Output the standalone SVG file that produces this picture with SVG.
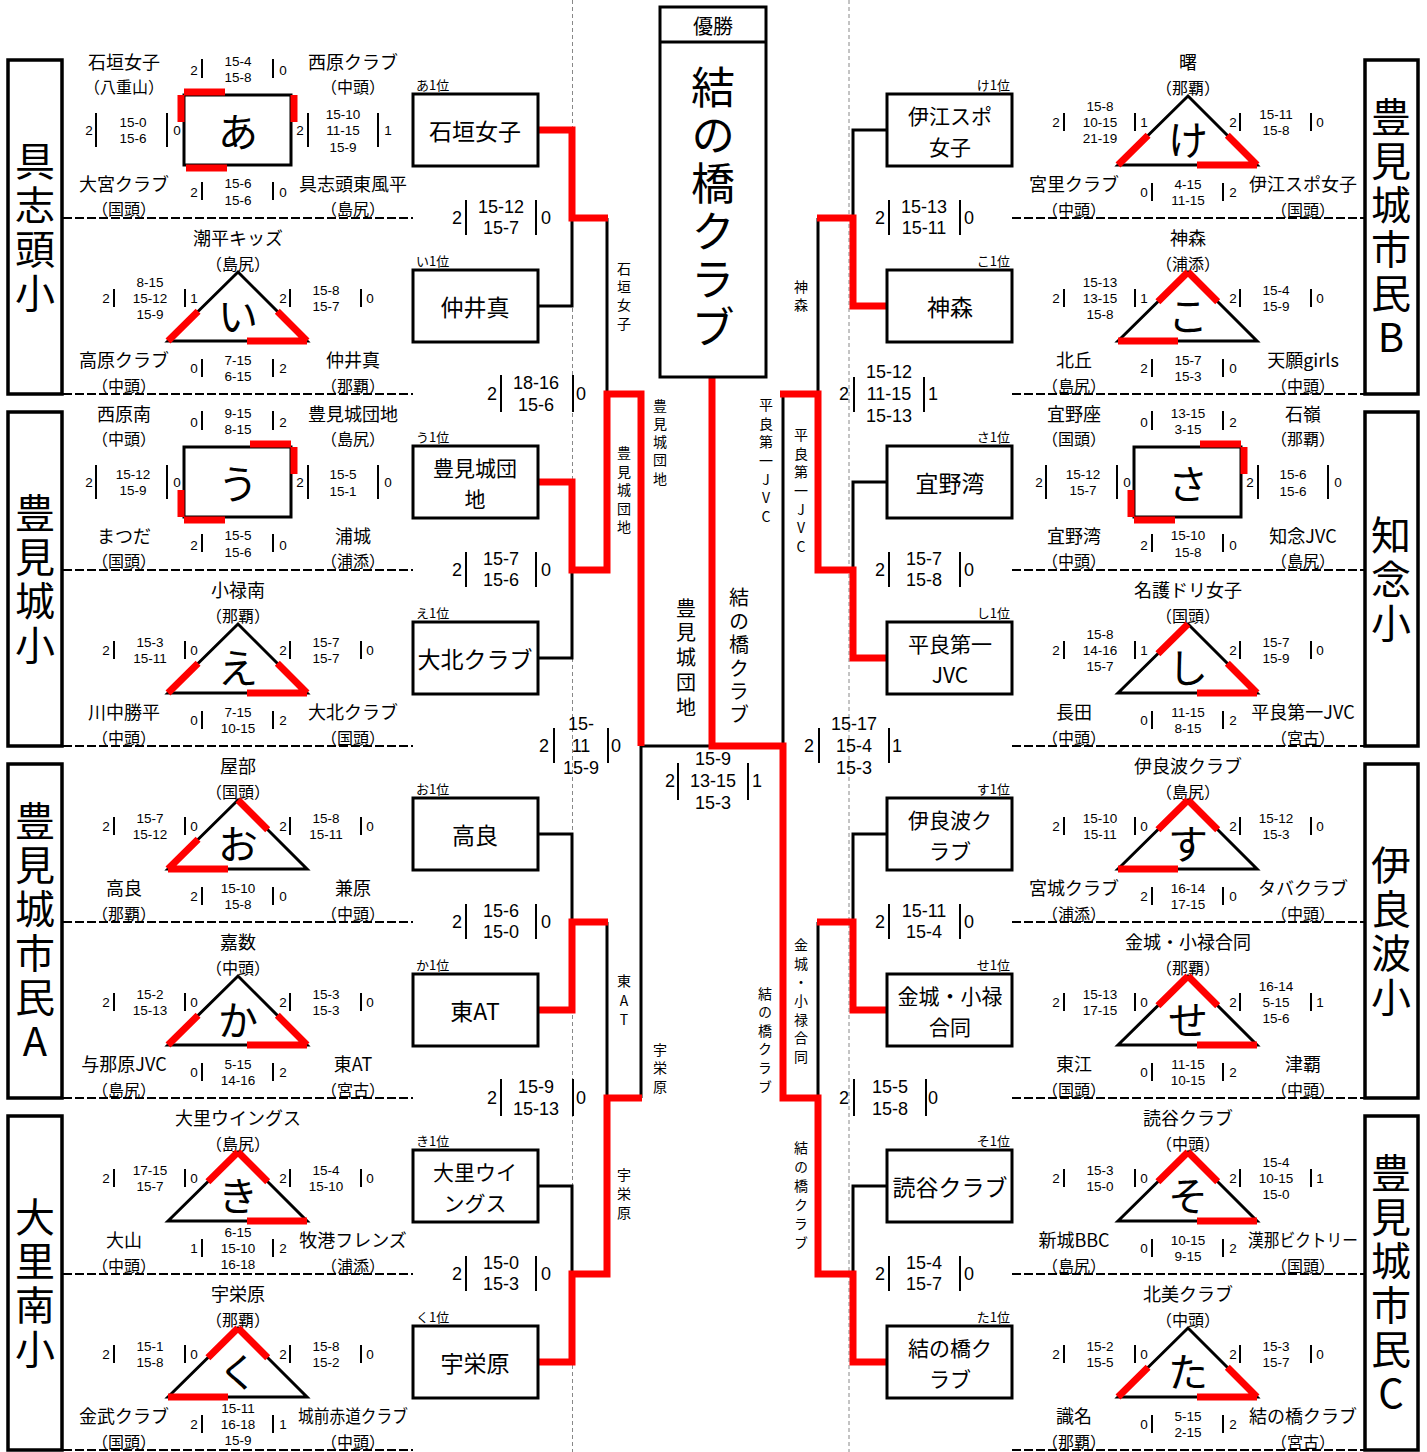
<svg xmlns="http://www.w3.org/2000/svg" width="1427" height="1452" viewBox="0 0 1427 1452">
<style>
text{font-family:"Noto Sans CJK JP","Noto Sans",sans-serif;fill:#000;text-anchor:middle;dominant-baseline:central}
.nm{font-size:18px}.rg{font-size:16px}.gc{font-size:40px}.bt{font-size:23px}.bt2{font-size:21px}
.sc{font-family:"Liberation Sans","Noto Sans CJK JP",sans-serif;font-size:13.5px}
.bs{font-family:"Liberation Sans","Noto Sans CJK JP",sans-serif;font-size:18px}
.lb{font-size:13px;text-anchor:start}.lbr{font-size:13px;text-anchor:end}
.vt{writing-mode:vertical-rl;text-orientation:upright}
.vs{font-size:14px}.vb{font-size:20px}.big{font-size:40px;letter-spacing:4px}.big2{font-size:44px;letter-spacing:4px}.ttl{font-size:20px}
.box{stroke:#000;stroke-width:3;fill:#fff}.sbox{stroke:#000;stroke-width:3.5;fill:#fff}
.shape{stroke:#000;stroke-width:3;fill:none}.bar{stroke:#000;stroke-width:2;fill:none}
.red{stroke:#f00;stroke-width:7;fill:none}.ln{stroke:#000;stroke-width:3;fill:none}
.sep{stroke:#000;stroke-width:2;stroke-dasharray:9 3;fill:none}.vd{stroke:#888;stroke-width:1;stroke-dasharray:4 3;fill:none}
</style>
<rect x="0" y="0" width="1427" height="1452" fill="#fff"/>
<g id="guides">
<path class="vd" d="M572.5 0V1452M849 0V1452"/>
<path class="sep" d="M63 218H413M63 394H413M63 570H413M63 746H413M63 922H413M63 1098H413M63 1274H413M63 1450H413M1012 218H1365M1012 394H1365M1012 570H1365M1012 746H1365M1012 922H1365M1012 1098H1365M1012 1274H1365M1012 1450H1365"/>
</g>
<g id="school-1"><rect class="sbox" x="8" y="60" width="54" height="334"/><text class="big vt" x="35" y="229">具志頭小</text></g>
<g id="school-2"><rect class="sbox" x="8" y="412" width="54" height="334"/><text class="big vt" x="35" y="581">豊見城小</text></g>
<g id="school-3"><rect class="sbox" x="8" y="764" width="54" height="334"/><text class="big vt" x="35" y="933">豊見城市民A</text></g>
<g id="school-4"><rect class="sbox" x="8" y="1116" width="54" height="334"/><text class="big vt" x="35" y="1285">大里南小</text></g>
<g id="school-5"><rect class="sbox" x="1365" y="60" width="53" height="334"/><text class="big vt" x="1391" y="229">豊見城市民B</text></g>
<g id="school-6"><rect class="sbox" x="1365" y="412" width="53" height="334"/><text class="big vt" x="1391" y="581">知念小</text></g>
<g id="school-7"><rect class="sbox" x="1365" y="764" width="53" height="334"/><text class="big vt" x="1391" y="933">伊良波小</text></g>
<g id="school-8"><rect class="sbox" x="1365" y="1116" width="53" height="334"/><text class="big vt" x="1391" y="1285">豊見城市民C</text></g>

<g id="group-a">
<rect class="shape" x="184" y="95" width="107" height="70"/><text class="gc" x="238" y="130">あ</text>
<text class="nm" x="124" y="61">石垣女子</text><text class="rg" x="124" y="86">（八重山）</text>
<text class="nm" x="353" y="61">西原クラブ</text><text class="rg" x="353" y="86">（中頭）</text>
<text class="nm" x="124" y="183">大宮クラブ</text><text class="rg" x="124" y="208">（国頭）</text>
<text class="nm" x="353" y="183">具志頭東風平</text><text class="rg" x="353" y="208">（島尻）</text>
<text class="sc" x="194" y="70">2</text><text class="sc" x="238" y="61">15-4</text><text class="sc" x="238" y="77">15-8</text><text class="sc" x="283" y="70">0</text>
<text class="sc" x="89" y="130">2</text><text class="sc" x="133" y="122">15-0</text><text class="sc" x="133" y="138">15-6</text><text class="sc" x="177" y="130">0</text>
<text class="sc" x="300" y="130">2</text><text class="sc" x="343" y="114">15-10</text><text class="sc" x="343" y="130">11-15</text><text class="sc" x="343" y="147">15-9</text><text class="sc" x="388" y="130">1</text>
<text class="sc" x="194" y="192">2</text><text class="sc" x="238" y="183">15-6</text><text class="sc" x="238" y="200">15-6</text><text class="sc" x="283" y="192">0</text>
<path class="bar" d="M202 59V78M273 59V78M96 113V147M167 113V147M308 113V147M378 113V147M202 182V200M273 182V200"/>
<path class="red" d="M184 92H225M181 95V122M294 95V122M186 168H227"/>
</g>
<g id="group-i">
<polygon class="shape" points="168,341 238,272 307,341"/><text class="gc" x="238" y="314">い</text>
<text class="nm" x="238" y="237">潮平キッズ</text><text class="rg" x="238" y="263">（島尻）</text>
<text class="nm" x="124" y="359">高原クラブ</text><text class="rg" x="124" y="385">（中頭）</text>
<text class="nm" x="353" y="359">仲井真</text><text class="rg" x="353" y="385">（那覇）</text>
<text class="sc" x="106" y="298">2</text><text class="sc" x="150" y="282">8-15</text><text class="sc" x="150" y="298">15-12</text><text class="sc" x="150" y="314">15-9</text><text class="sc" x="194" y="298">1</text>
<text class="sc" x="283" y="298">2</text><text class="sc" x="326" y="290">15-8</text><text class="sc" x="326" y="306">15-7</text><text class="sc" x="370" y="298">0</text>
<text class="sc" x="194" y="368">0</text><text class="sc" x="238" y="360">7-15</text><text class="sc" x="238" y="376">6-15</text><text class="sc" x="283" y="368">2</text>
<path class="bar" d="M114 289V307M185 289V307M290 289V307M361 289V307M202 359V377M273 359V377"/>
<path class="red" d="M168 341L198.1 311.3M307 341L277.3 311.3M247 341H307"/>
</g>
<g id="group-u">
<rect class="shape" x="184" y="447" width="107" height="70"/><text class="gc" x="238" y="482">う</text>
<text class="nm" x="124" y="413">西原南</text><text class="rg" x="124" y="438">（中頭）</text>
<text class="nm" x="353" y="413">豊見城団地</text><text class="rg" x="353" y="438">（島尻）</text>
<text class="nm" x="124" y="535">まつだ</text><text class="rg" x="124" y="560">（国頭）</text>
<text class="nm" x="353" y="535">浦城</text><text class="rg" x="353" y="560">（浦添）</text>
<text class="sc" x="194" y="422">0</text><text class="sc" x="238" y="413">9-15</text><text class="sc" x="238" y="429">8-15</text><text class="sc" x="283" y="422">2</text>
<text class="sc" x="89" y="482">2</text><text class="sc" x="133" y="474">15-12</text><text class="sc" x="133" y="490">15-9</text><text class="sc" x="177" y="482">0</text>
<text class="sc" x="300" y="482">2</text><text class="sc" x="343" y="474">15-5</text><text class="sc" x="343" y="491">15-1</text><text class="sc" x="388" y="482">0</text>
<text class="sc" x="194" y="545">2</text><text class="sc" x="238" y="535">15-5</text><text class="sc" x="238" y="552">15-6</text><text class="sc" x="283" y="545">0</text>
<path class="bar" d="M202 411V430M273 411V430M96 465V499M167 465V499M308 465V499M378 465V499M202 534V552M273 534V552"/>
<path class="red" d="M250 444H291M294 447V474M181 490V517M184 520H225"/>
</g>
<g id="group-e">
<polygon class="shape" points="168,693 238,624 307,693"/><text class="gc" x="238" y="666">え</text>
<text class="nm" x="238" y="589">小禄南</text><text class="rg" x="238" y="615">（那覇）</text>
<text class="nm" x="124" y="711">川中勝平</text><text class="rg" x="124" y="737">（中頭）</text>
<text class="nm" x="353" y="711">大北クラブ</text><text class="rg" x="353" y="737">（国頭）</text>
<text class="sc" x="106" y="650">2</text><text class="sc" x="150" y="642">15-3</text><text class="sc" x="150" y="658">15-11</text><text class="sc" x="194" y="650">0</text>
<text class="sc" x="283" y="650">2</text><text class="sc" x="326" y="642">15-7</text><text class="sc" x="326" y="658">15-7</text><text class="sc" x="370" y="650">0</text>
<text class="sc" x="194" y="720">0</text><text class="sc" x="238" y="712">7-15</text><text class="sc" x="238" y="728">10-15</text><text class="sc" x="283" y="720">2</text>
<path class="bar" d="M114 641V659M185 641V659M290 641V659M361 641V659M202 711V729M273 711V729"/>
<path class="red" d="M168 693L198.1 663.3M307 693L277.3 663.3M247 693H307"/>
</g>
<g id="group-o">
<polygon class="shape" points="168,869 238,800 307,869"/><text class="gc" x="238" y="842">お</text>
<text class="nm" x="238" y="765">屋部</text><text class="rg" x="238" y="791">（国頭）</text>
<text class="nm" x="124" y="887">高良</text><text class="rg" x="124" y="913">（那覇）</text>
<text class="nm" x="353" y="887">兼原</text><text class="rg" x="353" y="913">（中頭）</text>
<text class="sc" x="106" y="826">2</text><text class="sc" x="150" y="818">15-7</text><text class="sc" x="150" y="834">15-12</text><text class="sc" x="194" y="826">0</text>
<text class="sc" x="283" y="826">2</text><text class="sc" x="326" y="818">15-8</text><text class="sc" x="326" y="834">15-11</text><text class="sc" x="370" y="826">0</text>
<text class="sc" x="194" y="896">2</text><text class="sc" x="238" y="888">15-10</text><text class="sc" x="238" y="904">15-8</text><text class="sc" x="283" y="896">0</text>
<path class="bar" d="M114 817V835M185 817V835M290 817V835M361 817V835M202 887V905M273 887V905"/>
<path class="red" d="M168 869L198.1 839.3M238 800L267.7 829.7M168 869H228"/>
</g>
<g id="group-ka">
<polygon class="shape" points="168,1045 238,976 307,1045"/><text class="gc" x="238" y="1018">か</text>
<text class="nm" x="238" y="941">嘉数</text><text class="rg" x="238" y="967">（中頭）</text>
<text class="nm" x="124" y="1063">与那原JVC</text><text class="rg" x="124" y="1089">（島尻）</text>
<text class="nm" x="353" y="1063">東AT</text><text class="rg" x="353" y="1089">（宮古）</text>
<text class="sc" x="106" y="1002">2</text><text class="sc" x="150" y="994">15-2</text><text class="sc" x="150" y="1010">15-13</text><text class="sc" x="194" y="1002">0</text>
<text class="sc" x="283" y="1002">2</text><text class="sc" x="326" y="994">15-3</text><text class="sc" x="326" y="1010">15-3</text><text class="sc" x="370" y="1002">0</text>
<text class="sc" x="194" y="1072">0</text><text class="sc" x="238" y="1064">5-15</text><text class="sc" x="238" y="1080">14-16</text><text class="sc" x="283" y="1072">2</text>
<path class="bar" d="M114 993V1011M185 993V1011M290 993V1011M361 993V1011M202 1063V1081M273 1063V1081"/>
<path class="red" d="M168 1045L198.1 1015.3M307 1045L277.3 1015.3M247 1045H307"/>
</g>
<g id="group-ki">
<polygon class="shape" points="168,1221 238,1152 307,1221"/><text class="gc" x="238" y="1194">き</text>
<text class="nm" x="238" y="1117">大里ウイングス</text><text class="rg" x="238" y="1143">（島尻）</text>
<text class="nm" x="124" y="1239">大山</text><text class="rg" x="124" y="1265">（中頭）</text>
<text class="nm" x="353" y="1239">牧港フレンズ</text><text class="rg" x="353" y="1265">（浦添）</text>
<text class="sc" x="106" y="1178">2</text><text class="sc" x="150" y="1170">17-15</text><text class="sc" x="150" y="1186">15-7</text><text class="sc" x="194" y="1178">0</text>
<text class="sc" x="283" y="1178">2</text><text class="sc" x="326" y="1170">15-4</text><text class="sc" x="326" y="1186">15-10</text><text class="sc" x="370" y="1178">0</text>
<text class="sc" x="194" y="1248">1</text><text class="sc" x="238" y="1232">6-15</text><text class="sc" x="238" y="1248">15-10</text><text class="sc" x="238" y="1264">16-18</text><text class="sc" x="283" y="1248">2</text>
<path class="bar" d="M114 1169V1187M185 1169V1187M290 1169V1187M361 1169V1187M202 1239V1257M273 1239V1257"/>
<path class="red" d="M238 1152L207.9 1181.7M238 1152L267.7 1181.7M247 1221H307"/>
</g>
<g id="group-ku">
<polygon class="shape" points="168,1397 238,1328 307,1397"/><text class="gc" x="238" y="1370">く</text>
<text class="nm" x="238" y="1293">宇栄原</text><text class="rg" x="238" y="1319">（那覇）</text>
<text class="nm" x="124" y="1415">金武クラブ</text><text class="rg" x="124" y="1441">（国頭）</text>
<text class="nm" x="353" y="1415" textLength="110" lengthAdjust="spacingAndGlyphs">城前赤道クラブ</text><text class="rg" x="353" y="1441">（中頭）</text>
<text class="sc" x="106" y="1354">2</text><text class="sc" x="150" y="1346">15-1</text><text class="sc" x="150" y="1362">15-8</text><text class="sc" x="194" y="1354">0</text>
<text class="sc" x="283" y="1354">2</text><text class="sc" x="326" y="1346">15-8</text><text class="sc" x="326" y="1362">15-2</text><text class="sc" x="370" y="1354">0</text>
<text class="sc" x="194" y="1424">2</text><text class="sc" x="238" y="1408">15-11</text><text class="sc" x="238" y="1424">16-18</text><text class="sc" x="238" y="1440">15-9</text><text class="sc" x="283" y="1424">1</text>
<path class="bar" d="M114 1345V1363M185 1345V1363M290 1345V1363M361 1345V1363M202 1415V1433M273 1415V1433"/>
<path class="red" d="M238 1328L207.9 1357.7M238 1328L267.7 1357.7M168 1397H228"/>
</g>

<g id="group-ke">
<polygon class="shape" points="1118,165 1188,96 1257,165"/><text class="gc" x="1188" y="138">け</text>
<text class="nm" x="1188" y="61">曙</text><text class="rg" x="1188" y="87">（那覇）</text>
<text class="nm" x="1074" y="183">宮里クラブ</text><text class="rg" x="1074" y="209">（中頭）</text>
<text class="nm" x="1303" y="183">伊江スポ女子</text><text class="rg" x="1303" y="209">（国頭）</text>
<text class="sc" x="1056" y="122">2</text><text class="sc" x="1100" y="106">15-8</text><text class="sc" x="1100" y="122">10-15</text><text class="sc" x="1100" y="138">21-19</text><text class="sc" x="1144" y="122">1</text>
<text class="sc" x="1233" y="122">2</text><text class="sc" x="1276" y="114">15-11</text><text class="sc" x="1276" y="130">15-8</text><text class="sc" x="1320" y="122">0</text>
<text class="sc" x="1144" y="192">0</text><text class="sc" x="1188" y="184">4-15</text><text class="sc" x="1188" y="200">11-15</text><text class="sc" x="1233" y="192">2</text>
<path class="bar" d="M1064 113V131M1135 113V131M1240 113V131M1311 113V131M1152 183V201M1223 183V201"/>
<path class="red" d="M1118 165L1148.1 135.3M1257 165L1227.3 135.3M1197 165H1257"/>
</g>
<g id="group-ko">
<polygon class="shape" points="1118,341 1188,272 1257,341"/><text class="gc" x="1188" y="314">こ</text>
<text class="nm" x="1188" y="237">神森</text><text class="rg" x="1188" y="263">（浦添）</text>
<text class="nm" x="1074" y="359">北丘</text><text class="rg" x="1074" y="385">（島尻）</text>
<text class="nm" x="1303" y="359">天願girls</text><text class="rg" x="1303" y="385">（中頭）</text>
<text class="sc" x="1056" y="298">2</text><text class="sc" x="1100" y="282">15-13</text><text class="sc" x="1100" y="298">13-15</text><text class="sc" x="1100" y="314">15-8</text><text class="sc" x="1144" y="298">1</text>
<text class="sc" x="1233" y="298">2</text><text class="sc" x="1276" y="290">15-4</text><text class="sc" x="1276" y="306">15-9</text><text class="sc" x="1320" y="298">0</text>
<text class="sc" x="1144" y="368">2</text><text class="sc" x="1188" y="360">15-7</text><text class="sc" x="1188" y="376">15-3</text><text class="sc" x="1233" y="368">0</text>
<path class="bar" d="M1064 289V307M1135 289V307M1240 289V307M1311 289V307M1152 359V377M1223 359V377"/>
<path class="red" d="M1188 272L1157.9 301.7M1188 272L1217.7 301.7M1118 341H1178"/>
</g>
<g id="group-sa">
<rect class="shape" x="1134" y="447" width="107" height="70"/><text class="gc" x="1188" y="482">さ</text>
<text class="nm" x="1074" y="413">宜野座</text><text class="rg" x="1074" y="438">（国頭）</text>
<text class="nm" x="1303" y="413">石嶺</text><text class="rg" x="1303" y="438">（那覇）</text>
<text class="nm" x="1074" y="535">宜野湾</text><text class="rg" x="1074" y="560">（中頭）</text>
<text class="nm" x="1303" y="535">知念JVC</text><text class="rg" x="1303" y="560">（島尻）</text>
<text class="sc" x="1144" y="422">0</text><text class="sc" x="1188" y="413">13-15</text><text class="sc" x="1188" y="429">3-15</text><text class="sc" x="1233" y="422">2</text>
<text class="sc" x="1039" y="482">2</text><text class="sc" x="1083" y="474">15-12</text><text class="sc" x="1083" y="490">15-7</text><text class="sc" x="1127" y="482">0</text>
<text class="sc" x="1250" y="482">2</text><text class="sc" x="1293" y="474">15-6</text><text class="sc" x="1293" y="491">15-6</text><text class="sc" x="1338" y="482">0</text>
<text class="sc" x="1144" y="545">2</text><text class="sc" x="1188" y="535">15-10</text><text class="sc" x="1188" y="552">15-8</text><text class="sc" x="1233" y="545">0</text>
<path class="bar" d="M1152 411V430M1223 411V430M1046 465V499M1117 465V499M1258 465V499M1328 465V499M1152 534V552M1223 534V552"/>
<path class="red" d="M1200 444H1241M1244 447V474M1131 490V517M1134 520H1175"/>
</g>
<g id="group-shi">
<polygon class="shape" points="1118,693 1188,624 1257,693"/><text class="gc" x="1188" y="666">し</text>
<text class="nm" x="1188" y="589">名護ドリ女子</text><text class="rg" x="1188" y="615">（国頭）</text>
<text class="nm" x="1074" y="711">長田</text><text class="rg" x="1074" y="737">（中頭）</text>
<text class="nm" x="1303" y="711">平良第一JVC</text><text class="rg" x="1303" y="737">（宮古）</text>
<text class="sc" x="1056" y="650">2</text><text class="sc" x="1100" y="634">15-8</text><text class="sc" x="1100" y="650">14-16</text><text class="sc" x="1100" y="666">15-7</text><text class="sc" x="1144" y="650">1</text>
<text class="sc" x="1233" y="650">2</text><text class="sc" x="1276" y="642">15-7</text><text class="sc" x="1276" y="658">15-9</text><text class="sc" x="1320" y="650">0</text>
<text class="sc" x="1144" y="720">0</text><text class="sc" x="1188" y="712">11-15</text><text class="sc" x="1188" y="728">8-15</text><text class="sc" x="1233" y="720">2</text>
<path class="bar" d="M1064 641V659M1135 641V659M1240 641V659M1311 641V659M1152 711V729M1223 711V729"/>
<path class="red" d="M1188 624L1157.9 653.7M1257 693L1227.3 663.3M1197 693H1257"/>
</g>
<g id="group-su">
<polygon class="shape" points="1118,869 1188,800 1257,869"/><text class="gc" x="1188" y="842">す</text>
<text class="nm" x="1188" y="765">伊良波クラブ</text><text class="rg" x="1188" y="791">（島尻）</text>
<text class="nm" x="1074" y="887">宮城クラブ</text><text class="rg" x="1074" y="913">（浦添）</text>
<text class="nm" x="1303" y="887">タバクラブ</text><text class="rg" x="1303" y="913">（中頭）</text>
<text class="sc" x="1056" y="826">2</text><text class="sc" x="1100" y="818">15-10</text><text class="sc" x="1100" y="834">15-11</text><text class="sc" x="1144" y="826">0</text>
<text class="sc" x="1233" y="826">2</text><text class="sc" x="1276" y="818">15-12</text><text class="sc" x="1276" y="834">15-3</text><text class="sc" x="1320" y="826">0</text>
<text class="sc" x="1144" y="896">2</text><text class="sc" x="1188" y="888">16-14</text><text class="sc" x="1188" y="904">17-15</text><text class="sc" x="1233" y="896">0</text>
<path class="bar" d="M1064 817V835M1135 817V835M1240 817V835M1311 817V835M1152 887V905M1223 887V905"/>
<path class="red" d="M1188 800L1157.9 829.7M1188 800L1217.7 829.7M1118 869H1178"/>
</g>
<g id="group-se">
<polygon class="shape" points="1118,1045 1188,976 1257,1045"/><text class="gc" x="1188" y="1018">せ</text>
<text class="nm" x="1188" y="941">金城・小禄合同</text><text class="rg" x="1188" y="967">（那覇）</text>
<text class="nm" x="1074" y="1063">東江</text><text class="rg" x="1074" y="1089">（国頭）</text>
<text class="nm" x="1303" y="1063">津覇</text><text class="rg" x="1303" y="1089">（中頭）</text>
<text class="sc" x="1056" y="1002">2</text><text class="sc" x="1100" y="994">15-13</text><text class="sc" x="1100" y="1010">17-15</text><text class="sc" x="1144" y="1002">0</text>
<text class="sc" x="1233" y="1002">2</text><text class="sc" x="1276" y="986">16-14</text><text class="sc" x="1276" y="1002">5-15</text><text class="sc" x="1276" y="1018">15-6</text><text class="sc" x="1320" y="1002">1</text>
<text class="sc" x="1144" y="1072">0</text><text class="sc" x="1188" y="1064">11-15</text><text class="sc" x="1188" y="1080">10-15</text><text class="sc" x="1233" y="1072">2</text>
<path class="bar" d="M1064 993V1011M1135 993V1011M1240 993V1011M1311 993V1011M1152 1063V1081M1223 1063V1081"/>
<path class="red" d="M1188 976L1157.9 1005.7M1188 976L1217.7 1005.7M1197 1045H1257"/>
</g>
<g id="group-so">
<polygon class="shape" points="1118,1221 1188,1152 1257,1221"/><text class="gc" x="1188" y="1194">そ</text>
<text class="nm" x="1188" y="1117">読谷クラブ</text><text class="rg" x="1188" y="1143">（中頭）</text>
<text class="nm" x="1074" y="1239">新城BBC</text><text class="rg" x="1074" y="1265">（島尻）</text>
<text class="nm" x="1303" y="1239" textLength="110" lengthAdjust="spacingAndGlyphs">漢那ビクトリー</text><text class="rg" x="1303" y="1265">（国頭）</text>
<text class="sc" x="1056" y="1178">2</text><text class="sc" x="1100" y="1170">15-3</text><text class="sc" x="1100" y="1186">15-0</text><text class="sc" x="1144" y="1178">0</text>
<text class="sc" x="1233" y="1178">2</text><text class="sc" x="1276" y="1162">15-4</text><text class="sc" x="1276" y="1178">10-15</text><text class="sc" x="1276" y="1194">15-0</text><text class="sc" x="1320" y="1178">1</text>
<text class="sc" x="1144" y="1248">0</text><text class="sc" x="1188" y="1240">10-15</text><text class="sc" x="1188" y="1256">9-15</text><text class="sc" x="1233" y="1248">2</text>
<path class="bar" d="M1064 1169V1187M1135 1169V1187M1240 1169V1187M1311 1169V1187M1152 1239V1257M1223 1239V1257"/>
<path class="red" d="M1188 1152L1157.9 1181.7M1188 1152L1217.7 1181.7M1197 1221H1257"/>
</g>
<g id="group-ta">
<polygon class="shape" points="1118,1397 1188,1328 1257,1397"/><text class="gc" x="1188" y="1370">た</text>
<text class="nm" x="1188" y="1293">北美クラブ</text><text class="rg" x="1188" y="1319">（中頭）</text>
<text class="nm" x="1074" y="1415">識名</text><text class="rg" x="1074" y="1441">（那覇）</text>
<text class="nm" x="1303" y="1415">結の橋クラブ</text><text class="rg" x="1303" y="1441">（宮古）</text>
<text class="sc" x="1056" y="1354">2</text><text class="sc" x="1100" y="1346">15-2</text><text class="sc" x="1100" y="1362">15-5</text><text class="sc" x="1144" y="1354">0</text>
<text class="sc" x="1233" y="1354">2</text><text class="sc" x="1276" y="1346">15-3</text><text class="sc" x="1276" y="1362">15-7</text><text class="sc" x="1320" y="1354">0</text>
<text class="sc" x="1144" y="1424">0</text><text class="sc" x="1188" y="1416">5-15</text><text class="sc" x="1188" y="1432">2-15</text><text class="sc" x="1233" y="1424">2</text>
<path class="bar" d="M1064 1345V1363M1135 1345V1363M1240 1345V1363M1311 1345V1363M1152 1415V1433M1223 1415V1433"/>
<path class="red" d="M1118 1397L1148.1 1367.3M1257 1397L1227.3 1367.3M1197 1397H1257"/>
</g>

<g id="connectors">
<path class="ln" d="M538 130H572V306H538M572 218H607M538 482H572V658H538M572 570H607M538 834H572V1010H538M572 922H607M538 1186H572V1362H538M572 1274H607M607 218V570M607 394H641M607 922V1274M607 1098H641M641 394V1098M641 746H783"/>
<path class="ln" d="M887 130H853V306H887M853 218H818M887 482H853V658H887M853 570H818M887 834H853V1010H887M853 922H818M887 1186H853V1362H887M853 1274H818M818 218V570M818 394H783M818 922V1274M818 1098H783M783 394V1098M712 377V746"/>
<path class="red" d="M535 130H572V218H608"/>
<path class="red" d="M535 482H572V570H607V394H641V746"/>
<path class="red" d="M535 1010H572V922H608"/>
<path class="red" d="M535 1362H572V1274H607V1098H642"/>
<path class="red" d="M890 306H853V218H817"/>
<path class="red" d="M890 658H853V570H818V394H780"/>
<path class="red" d="M890 1010H853V922H817"/>
<path class="red" d="M890 1362H853V1274H818V1098H783V746H712V377"/>
</g>

<g id="winner-box">
<rect class="box" x="660" y="7" width="106" height="370"/><path class="ln" d="M660 42H766"/>
<text class="ttl" x="713" y="25">優勝</text>
<text class="big2 vt" x="713" y="209">結の橋クラブ</text>
</g>

<g id="team-a1"><rect class="box" x="413" y="94" width="125" height="72"/><text class="lb" x="416" y="84">あ1位</text><text class="bt" x="475" y="130">石垣女子</text></g>
<g id="team-i1"><rect class="box" x="413" y="270" width="125" height="72"/><text class="lb" x="416" y="260">い1位</text><text class="bt" x="475" y="306">仲井真</text></g>
<g id="team-u1"><rect class="box" x="413" y="446" width="125" height="72"/><text class="lb" x="416" y="436">う1位</text><text class="bt2" x="475" y="466.5">豊見城団</text><text class="bt2" x="475" y="497.5">地</text></g>
<g id="team-e1"><rect class="box" x="413" y="622" width="125" height="72"/><text class="lb" x="416" y="612">え1位</text><text class="bt" x="475" y="658">大北クラブ</text></g>
<g id="team-o1"><rect class="box" x="413" y="798" width="125" height="72"/><text class="lb" x="416" y="788">お1位</text><text class="bt" x="475" y="834">高良</text></g>
<g id="team-ka1"><rect class="box" x="413" y="974" width="125" height="72"/><text class="lb" x="416" y="964">か1位</text><text class="bt" x="475" y="1010">東AT</text></g>
<g id="team-ki1"><rect class="box" x="413" y="1150" width="125" height="72"/><text class="lb" x="416" y="1140">き1位</text><text class="bt2" x="475" y="1170.5">大里ウイ</text><text class="bt2" x="475" y="1201.5">ングス</text></g>
<g id="team-ku1"><rect class="box" x="413" y="1326" width="125" height="72"/><text class="lb" x="416" y="1316">く1位</text><text class="bt" x="475" y="1362">宇栄原</text></g>
<g id="team-ke1"><rect class="box" x="887" y="94" width="125" height="72"/><text class="lbr" x="1010" y="84">け1位</text><text class="bt2" x="950" y="114.5">伊江スポ</text><text class="bt2" x="950" y="145.5">女子</text></g>
<g id="team-ko1"><rect class="box" x="887" y="270" width="125" height="72"/><text class="lbr" x="1010" y="260">こ1位</text><text class="bt" x="950" y="306">神森</text></g>
<g id="team-sa1"><rect class="box" x="887" y="446" width="125" height="72"/><text class="lbr" x="1010" y="436">さ1位</text><text class="bt" x="950" y="482">宜野湾</text></g>
<g id="team-shi1"><rect class="box" x="887" y="622" width="125" height="72"/><text class="lbr" x="1010" y="612">し1位</text><text class="bt2" x="950" y="642.5">平良第一</text><text class="bt2" x="950" y="673.5">JVC</text></g>
<g id="team-su1"><rect class="box" x="887" y="798" width="125" height="72"/><text class="lbr" x="1010" y="788">す1位</text><text class="bt2" x="950" y="818.5">伊良波ク</text><text class="bt2" x="950" y="849.5">ラブ</text></g>
<g id="team-se1"><rect class="box" x="887" y="974" width="125" height="72"/><text class="lbr" x="1010" y="964">せ1位</text><text class="bt2" x="950" y="994.5">金城・小禄</text><text class="bt2" x="950" y="1025.5">合同</text></g>
<g id="team-so1"><rect class="box" x="887" y="1150" width="125" height="72"/><text class="lbr" x="1010" y="1140">そ1位</text><text class="bt" x="950" y="1186">読谷クラブ</text></g>
<g id="team-ta1"><rect class="box" x="887" y="1326" width="125" height="72"/><text class="lbr" x="1010" y="1316">た1位</text><text class="bt2" x="950" y="1346.5">結の橋ク</text><text class="bt2" x="950" y="1377.5">ラブ</text></g>

<g id="bracket-scores">
<text class="bs" x="457" y="218">2</text><text class="bs" x="501" y="207">15-12</text><text class="bs" x="501" y="228">15-7</text><text class="bs" x="546" y="218">0</text>
<text class="bs" x="457" y="570">2</text><text class="bs" x="501" y="559">15-7</text><text class="bs" x="501" y="580">15-6</text><text class="bs" x="546" y="570">0</text>
<text class="bs" x="457" y="922">2</text><text class="bs" x="501" y="911">15-6</text><text class="bs" x="501" y="932">15-0</text><text class="bs" x="546" y="922">0</text>
<text class="bs" x="457" y="1274">2</text><text class="bs" x="501" y="1263">15-0</text><text class="bs" x="501" y="1284">15-3</text><text class="bs" x="546" y="1274">0</text>
<text class="bs" x="492" y="394">2</text><text class="bs" x="536" y="383">18-16</text><text class="bs" x="536" y="405">15-6</text><text class="bs" x="581" y="394">0</text>
<text class="bs" x="492" y="1098">2</text><text class="bs" x="536" y="1087">15-9</text><text class="bs" x="536" y="1109">15-13</text><text class="bs" x="581" y="1098">0</text>
<text class="bs" x="544" y="746">2</text><text class="bs" x="581" y="724">15-</text><text class="bs" x="581" y="746">11</text><text class="bs" x="581" y="768">15-9</text><text class="bs" x="616" y="746">0</text>
<text class="bs" x="880" y="218">2</text><text class="bs" x="924" y="207">15-13</text><text class="bs" x="924" y="228">15-11</text><text class="bs" x="969" y="218">0</text>
<text class="bs" x="880" y="570">2</text><text class="bs" x="924" y="559">15-7</text><text class="bs" x="924" y="580">15-8</text><text class="bs" x="969" y="570">0</text>
<text class="bs" x="880" y="922">2</text><text class="bs" x="924" y="911">15-11</text><text class="bs" x="924" y="932">15-4</text><text class="bs" x="969" y="922">0</text>
<text class="bs" x="880" y="1274">2</text><text class="bs" x="924" y="1263">15-4</text><text class="bs" x="924" y="1284">15-7</text><text class="bs" x="969" y="1274">0</text>
<text class="bs" x="844" y="394">2</text><text class="bs" x="889" y="372">15-12</text><text class="bs" x="889" y="394">11-15</text><text class="bs" x="889" y="416">15-13</text><text class="bs" x="933" y="394">1</text>
<text class="bs" x="844" y="1098">2</text><text class="bs" x="890" y="1087">15-5</text><text class="bs" x="890" y="1109">15-8</text><text class="bs" x="933" y="1098">0</text>
<text class="bs" x="809" y="746">2</text><text class="bs" x="854" y="724">15-17</text><text class="bs" x="854" y="746">15-4</text><text class="bs" x="854" y="768">15-3</text><text class="bs" x="897" y="746">1</text>
<text class="bs" x="670" y="781">2</text><text class="bs" x="713" y="759">15-9</text><text class="bs" x="713" y="781">13-15</text><text class="bs" x="713" y="803">15-3</text><text class="bs" x="757" y="781">1</text>
<path class="bar" d="M466 200V235M536 200V235M466 552V587M536 552V587M466 904V939M536 904V939M466 1256V1291M536 1256V1291M501 375V412M573 375V412M501 1079V1116M573 1079V1116M554 728V763M608 728V763M889 200V235M960 200V235M889 552V587M960 552V587M889 904V939M960 904V939M889 1256V1291M960 1256V1291M854 377V412M924 377V412M854 1079V1116M926 1079V1116M819 728V763M889 728V763M678 763V800M748 763V800"/>
</g>

<g id="winner-labels">
<text class="vs vt" x="624" y="298" style="letter-spacing:4.3px">石垣女子</text>
<text class="vs vt" x="624" y="492" style="letter-spacing:4.5px">豊見城団地</text>
<text class="vs vt" x="660" y="444" style="letter-spacing:4.3px">豊見城団地</text>
<text class="vb vt" x="686" y="660" style="letter-spacing:4.75px">豊見城団地</text>
<text class="vb vt" x="739" y="658" style="letter-spacing:3.4px">結の橋クラブ</text>
<text class="vs vt" x="766" y="463" style="letter-spacing:4.7px">平良第一JVC</text>
<text class="vs vt" x="801" y="493" style="letter-spacing:4.7px">平良第一JVC</text>
<text class="vs vt" x="801" y="298" style="letter-spacing:4px">神森</text>
<text class="vs vt" x="624" y="1003" style="letter-spacing:5.5px">東AT</text>
<text class="vs vt" x="660" y="1070" style="letter-spacing:4.5px">宇栄原</text>
<text class="vs vt" x="624" y="1196" style="letter-spacing:5px">宇栄原</text>
<text class="vs vt" x="801" y="1003" style="letter-spacing:4.7px">金城・小禄合同</text>
<text class="vs vt" x="765" y="1042" style="letter-spacing:4.6px">結の橋クラブ</text>
<text class="vs vt" x="801" y="1198" style="letter-spacing:5px">結の橋クラブ</text>
</g>
</svg>
